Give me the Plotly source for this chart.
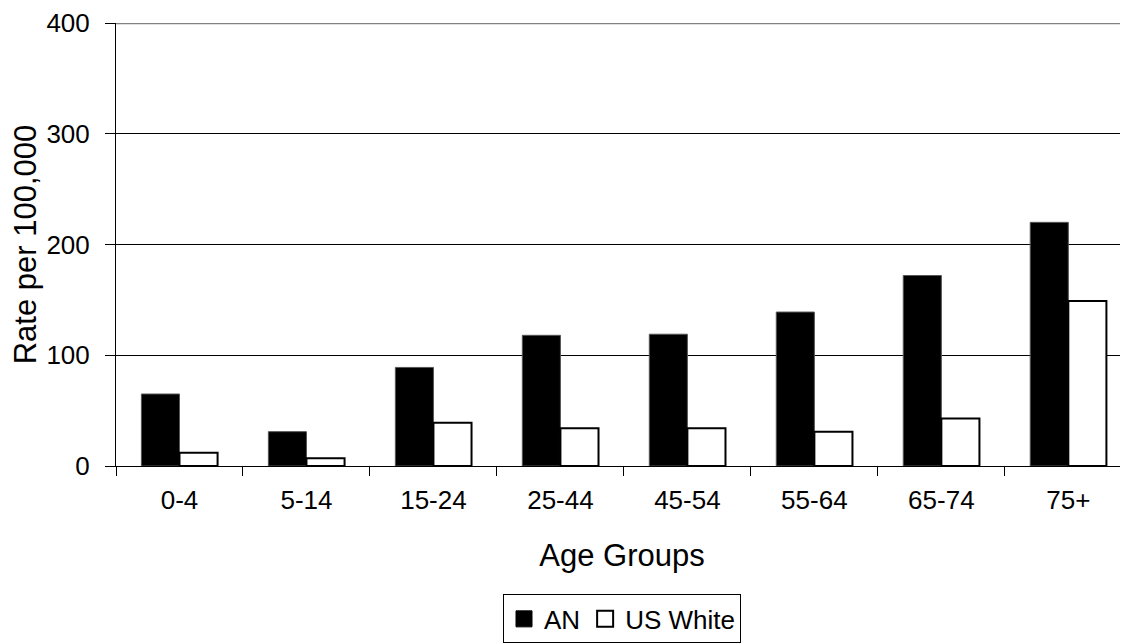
import plotly.graph_objects as go

categories = ["0-4", "5-14", "15-24", "25-44", "45-54", "55-64", "65-74", "75+"]
an_values = [65, 31, 89, 118, 119, 139, 172, 220]
us_white_values = [12, 7, 39, 34, 34, 31, 43, 149]
y_ticks = [0, 100, 200, 300, 400]

FONT = "Liberation Sans, Arial, sans-serif"

fig = go.Figure()
fig.add_trace(go.Bar(
    name="AN", x=categories, y=an_values, showlegend=False,
    marker=dict(color="black", line=dict(color="#555555", width=1)),
))
fig.add_trace(go.Bar(
    name="US White", x=categories, y=us_white_values, showlegend=False,
    marker=dict(color="white", line=dict(color="black", width=2)),
))
# legend entries with larger square swatches
fig.add_trace(go.Scatter(
    name="AN", x=[None], y=[None], mode="markers",
    marker=dict(symbol="square", size=18, color="black", line=dict(color="black", width=1)),
))
fig.add_trace(go.Scatter(
    name="US White", x=[None], y=[None], mode="markers",
    marker=dict(symbol="square", size=16, color="white", line=dict(color="black", width=2)),
))

fig.update_layout(
    width=1120, height=636,
    margin=dict(l=108, r=0, t=12, b=172),
    paper_bgcolor="white", plot_bgcolor="white",
    font=dict(family=FONT, size=26, color="black"),
    barmode="group", bargap=0.4, bargroupgap=0,
    showlegend=True,
    legend=dict(
        orientation="h", x=0.5, xanchor="center", xref="paper",
        y=-0.29, yanchor="top",
        bordercolor="black", borderwidth=1,
        font=dict(size=26), itemwidth=30,
        traceorder="normal",
    ),
    xaxis=dict(
        type="category",
        range=[-0.5, 7.47],
        showline=True, linecolor="black", linewidth=1,
        ticks="outside", tickson="boundaries", ticklen=9, tickcolor="black",
        ticklabelstandoff=11,
        showgrid=False,
        title=dict(text="Age Groups", standoff=30),
        tickfont=dict(size=26),
    ),
    yaxis=dict(
        range=[0, 400],
        tickvals=y_ticks,
        showline=True, linecolor="black", linewidth=1,
        ticks="outside", ticklen=10, tickcolor="black",
        ticklabelstandoff=10,
        ticklabeloverflow="allow",
        showgrid=True, gridcolor="black", gridwidth=1,
        zeroline=False,
        title=dict(text="Rate per 100,000", standoff=12),
        tickfont=dict(size=26),
    ),
)

fig.add_shape(type="line", xref="paper", yref="y", x0=0, x1=1, y0=400, y1=400,
              line=dict(color="#808080", width=2.5))

fig.write_html("out.html")
